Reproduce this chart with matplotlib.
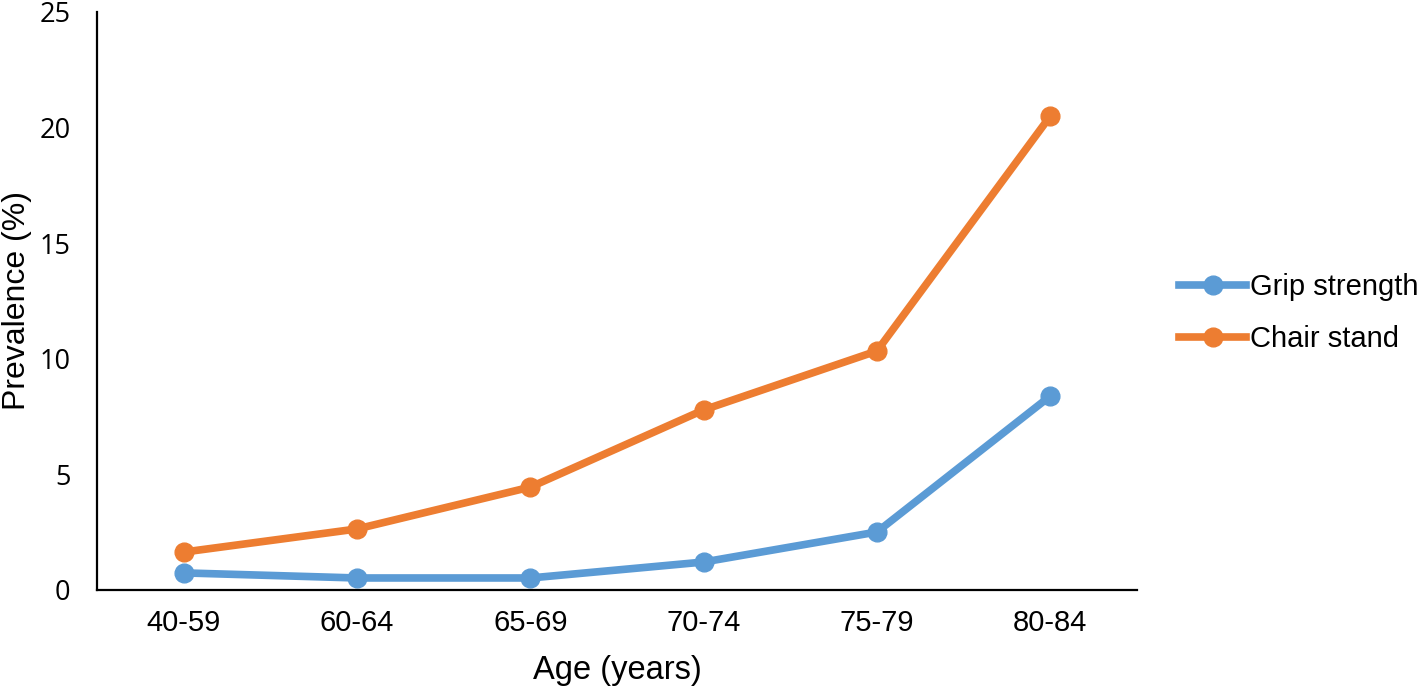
import matplotlib
matplotlib.use("Agg")
import matplotlib.pyplot as plt

# data
ages = ["40-59", "60-64", "65-69", "70-74", "75-79", "80-84"]
grip = [0.74, 0.52, 0.52, 1.21, 2.51, 8.39]
chair = [1.64, 2.64, 4.45, 7.79, 10.34, 20.5]
yticks = [0, 5, 10, 15, 20, 25]

blue = "#5B9BD5"
orange = "#ED7D31"

plt.rcParams['font.family'] = ['Liberation Sans', 'DejaVu Sans']

fig = plt.figure(figsize=(14.18, 6.89), dpi=100)
ax = fig.add_axes([97/1418, 1 - 590/689, (1137-97)/1418, (590-12)/689])

x = range(len(ages))
ax.plot(x, grip, color=blue, lw=5.5, marker="o", ms=13.5, label="Grip strength")
ax.plot(x, chair, color=orange, lw=5.5, marker="o", ms=13.5, label="Chair stand")

ax.set_xlim(-0.5, len(ages) - 0.5)
ax.set_ylim(0, 25)
ax.set_xticks(list(x))
ax.set_xticklabels(ages, fontsize=21)
ax.set_yticks(yticks)
ax.set_yticklabels([str(t) for t in yticks], fontsize=19.5, family="Open Sans")
ax.tick_params(axis="x", length=0, pad=14)
ax.tick_params(axis="y", length=0, pad=19)

for s in ["top", "right"]:
    ax.spines[s].set_visible(False)
for s in ["left", "bottom"]:
    ax.spines[s].set_linewidth(1.6)

ax.set_xlabel("Age (years)", fontsize=23.5)
ax.set_ylabel("Prevalence (%)", fontsize=23)
ax.yaxis.set_label_coords((32 - 97) / 1040, 0.5)
ax.xaxis.set_label_coords(0.5, (590 - 655) / 578)

ax.legend(loc="center left", bbox_to_anchor=(1179/1418, 1 - 313/689),
          bbox_transform=fig.transFigure, frameon=False, fontsize=21,
          handlelength=2.3, handletextpad=0.15, labelspacing=0.83,
          borderpad=0, borderaxespad=0)

fig.savefig("out.png", dpi=100)
